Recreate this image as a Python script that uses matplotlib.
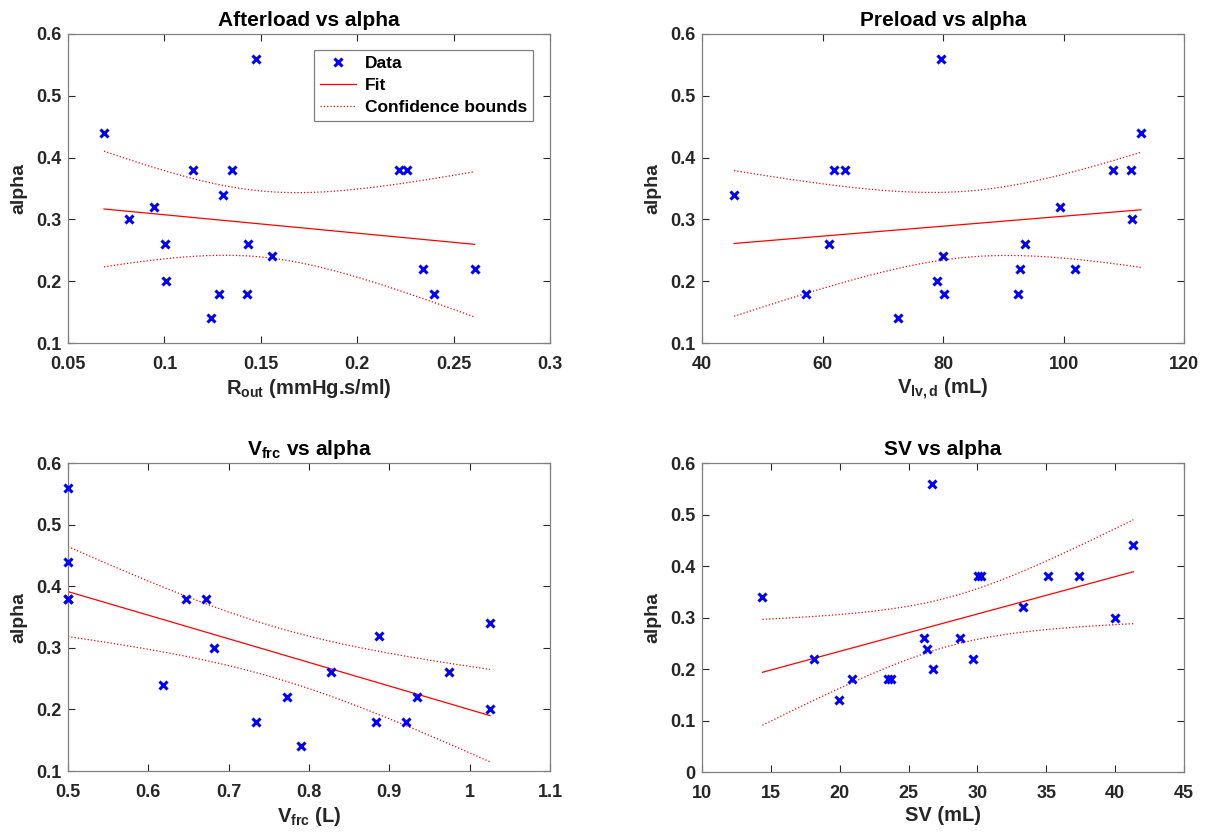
"""Scatter plots of alpha against four haemodynamic parameters, with linear fits."""

import matplotlib

matplotlib.use("Agg")

import matplotlib.pyplot as plt
import numpy as np

# Afterload (R_out) vs alpha
r_out = [0.0687, 0.0817, 0.0945, 0.1005, 0.1010, 0.1149, 0.1240, 0.1284, 0.1305,
         0.1351, 0.1429, 0.1432, 0.1477, 0.1557, 0.2218, 0.2256, 0.2343, 0.2398, 0.2609]
alpha_r = [0.44, 0.30, 0.32, 0.26, 0.20, 0.38, 0.14, 0.18, 0.34,
           0.38, 0.18, 0.26, 0.56, 0.24, 0.38, 0.38, 0.22, 0.18, 0.22]

# Preload (V_lv,d) vs alpha
v_lvd = [45.32, 57.34, 61.16, 61.88, 63.71, 72.52, 78.95, 79.72, 80.00, 80.22,
         92.52, 92.80, 93.63, 99.39, 101.83, 108.20, 111.14, 111.30, 112.85]
alpha_v = [0.34, 0.18, 0.26, 0.38, 0.38, 0.14, 0.20, 0.56, 0.24, 0.18,
           0.18, 0.22, 0.26, 0.32, 0.22, 0.38, 0.38, 0.30, 0.44]

# V_frc vs alpha
v_frc = [0.500, 0.500, 0.500, 0.500, 0.6177, 0.6472, 0.6721, 0.6813, 0.7341, 0.7723,
         0.7906, 0.8272, 0.8834, 0.8867, 0.9208, 0.9341, 0.9749, 1.0247, 1.0252]
alpha_f = [0.56, 0.44, 0.38, 0.38, 0.24, 0.38, 0.38, 0.30, 0.18, 0.22,
           0.14, 0.26, 0.18, 0.32, 0.18, 0.22, 0.26, 0.34, 0.20]

# SV vs alpha
sv = [14.39, 18.10, 19.92, 20.86, 23.52, 23.74, 26.11, 26.33, 26.69, 26.79,
      28.75, 29.65, 30.01, 30.25, 33.33, 35.15, 37.37, 40.01, 41.32]
alpha_s = [0.34, 0.22, 0.14, 0.18, 0.18, 0.18, 0.26, 0.24, 0.56, 0.20,
           0.26, 0.22, 0.38, 0.38, 0.32, 0.38, 0.38, 0.30, 0.44]

# t(0.975, df) for 95% bounds
T975 = {16: 2.1199, 17: 2.1098, 18: 2.1009}

AXIS_GRAY = "#262626"

plt.rcParams["font.family"] = ["Liberation Sans", "DejaVu Sans"]
plt.rcParams["font.weight"] = "bold"
plt.rcParams["mathtext.fontset"] = "custom"
plt.rcParams["mathtext.rm"] = "Liberation Sans:bold"
plt.rcParams["mathtext.it"] = "Liberation Sans:bold"
plt.rcParams["mathtext.bf"] = "Liberation Sans:bold"


def fit_with_bounds(x, y, n_pts=200):
    x = np.asarray(x, dtype=float)
    y = np.asarray(y, dtype=float)
    n = len(x)
    slope, intercept = np.polyfit(x, y, 1)
    resid = y - (slope * x + intercept)
    s = np.sqrt(np.sum(resid ** 2) / (n - 2))
    xs = np.linspace(x.min(), x.max(), n_pts)
    yfit = slope * xs + intercept
    se = s * np.sqrt(1.0 / n + (xs - x.mean()) ** 2 / np.sum((x - x.mean()) ** 2))
    half = T975.get(n - 2, 2.1) * se
    return xs, yfit, yfit - half, yfit + half


def draw_panel(ax, x, y, title, xlabel, xlim, xticks, xticklabels, ylim, yticks, legend=False):
    xs, yfit, lo, hi = fit_with_bounds(x, y)
    ax.plot(x, y, "x", color="#0000ff", markersize=5.2, mew=2.2, label="Data",
            clip_on=False, zorder=4)
    ax.plot(xs, yfit, "-", color="#ff0000", lw=0.9, label="Fit")
    ax.plot(xs, lo, ":", color="#ff0000", lw=0.9, label="Confidence bounds")
    ax.plot(xs, hi, ":", color="#ff0000", lw=0.9)

    ax.set_xlim(*xlim)
    ax.set_ylim(*ylim)
    ax.set_xticks(xticks)
    ax.set_xticklabels(xticklabels)
    ax.set_yticks(yticks)
    ax.set_yticklabels([f"{v:g}" for v in yticks])

    ax.tick_params(direction="in", top=True, right=True, length=5, width=0.8,
                   colors=AXIS_GRAY, labelsize=13)
    ax.tick_params(axis="x", pad=9)
    ax.tick_params(axis="y", pad=5)
    for side in ax.spines.values():
        side.set_color("#808080")
        side.set_linewidth(0.9)

    ax.set_title(title, fontsize=15, fontweight="bold", pad=6)
    ax.set_xlabel(xlabel, fontsize=14.5, fontweight="bold", color=AXIS_GRAY, labelpad=3)
    ax.set_ylabel("alpha", fontsize=14, fontweight="bold", color=AXIS_GRAY)
    ax.yaxis.set_label_coords(-0.084, 0.5)

    if legend:
        handles, labels = ax.get_legend_handles_labels()
        leg = ax.legend(handles, labels, loc="upper right", fontsize=12.5, fancybox=False,
                        framealpha=1, edgecolor="#808080", handlelength=2.1,
                        borderpad=0.35, labelspacing=0.38, handletextpad=0.5,
                        borderaxespad=0, bbox_to_anchor=(0.965, 0.948))
        leg.get_frame().set_linewidth(0.9)


fig = plt.figure(figsize=(12.16, 8.35), dpi=100)

ax_tl = fig.add_axes([0.0559, 0.5892, 0.3964, 0.3701])
ax_tr = fig.add_axes([0.5773, 0.5892, 0.3964, 0.3701])
ax_bl = fig.add_axes([0.0559, 0.0766, 0.3964, 0.3689])
ax_br = fig.add_axes([0.5773, 0.0752, 0.3964, 0.3703])

draw_panel(ax_tl, r_out, alpha_r, "Afterload vs alpha", r"$\mathrm{R_{out}}$ (mmHg.s/ml)",
           (0.05, 0.3), [0.05, 0.1, 0.15, 0.2, 0.25, 0.3],
           ["0.05", "0.1", "0.15", "0.2", "0.25", "0.3"],
           (0.1, 0.6), [0.1, 0.2, 0.3, 0.4, 0.5, 0.6], legend=True)

draw_panel(ax_tr, v_lvd, alpha_v, "Preload vs alpha", r"$\mathrm{V_{lv,d}}$ (mL)",
           (40, 120), [40, 60, 80, 100, 120], ["40", "60", "80", "100", "120"],
           (0.1, 0.6), [0.1, 0.2, 0.3, 0.4, 0.5, 0.6])

draw_panel(ax_bl, v_frc, alpha_f, r"$\mathrm{V_{frc}}$ vs alpha", r"$\mathrm{V_{frc}}$ (L)",
           (0.5, 1.1), [0.5, 0.6, 0.7, 0.8, 0.9, 1.0, 1.1],
           ["0.5", "0.6", "0.7", "0.8", "0.9", "1", "1.1"],
           (0.1, 0.6), [0.1, 0.2, 0.3, 0.4, 0.5, 0.6])

draw_panel(ax_br, sv, alpha_s, "SV vs alpha", "SV (mL)",
           (10, 45), [10, 15, 20, 25, 30, 35, 40, 45],
           ["10", "15", "20", "25", "30", "35", "40", "45"],
           (0, 0.6), [0, 0.1, 0.2, 0.3, 0.4, 0.5, 0.6])

fig.savefig("out.png", dpi=100)
